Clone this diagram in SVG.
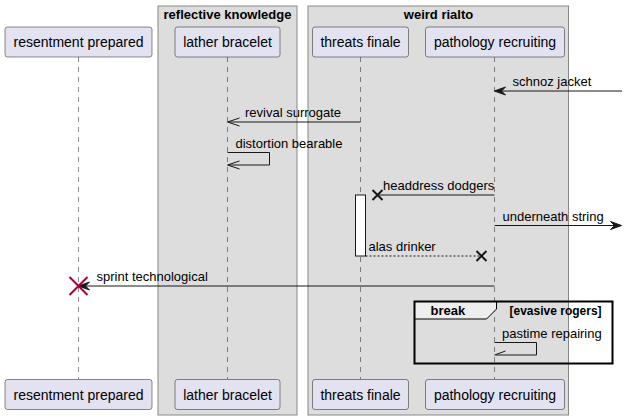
<svg xmlns="http://www.w3.org/2000/svg" width="627" height="420" viewBox="0 0 627 420">
<style>
.grp{fill:#DDDDDD;stroke:#888888;stroke-width:1}
.gt{font-family:"Liberation Sans",Arial,sans-serif;font-size:13px;font-weight:bold;fill:#000}
.pb{fill:#E2E2F0;stroke:#181818;stroke-width:0.5}
.pt{font-family:"Liberation Sans",Arial,sans-serif;font-size:14px;fill:#000}
.life{stroke:#181818;stroke-width:0.5;stroke-dasharray:5,5;fill:none}
.msg{stroke:#181818;stroke-width:1;fill:none}
.dash{stroke-dasharray:2,2}
.mt{font-family:"Liberation Sans",Arial,sans-serif;font-size:13px;fill:#000}
.ah{fill:#181818;stroke:#181818;stroke-width:1}
.x{stroke:#181818;stroke-width:2;fill:none}
.xr{stroke:#A80036;stroke-width:2;fill:none}
</style>
<rect width="627" height="420" fill="#FFFFFF"/>
<g id="box-reflective-knowledge">
<rect class="grp" x="158" y="6" width="139" height="409"/>
<text class="gt" x="227.5" y="19" text-anchor="middle">reflective knowledge</text>
</g>
<g id="box-weird-rialto">
<rect class="grp" x="308" y="6" width="260.5" height="409"/>
<text class="gt" x="438.5" y="19" text-anchor="middle">weird rialto</text>
</g>
<g id="lifelines">
<line class="life" x1="78.5" y1="57" x2="78.5" y2="379"/>
<line class="life" x1="227.5" y1="57" x2="227.5" y2="379"/>
<line class="life" x1="360.5" y1="57" x2="360.5" y2="379"/>
<line class="life" x1="494.5" y1="57" x2="494.5" y2="379"/>
</g>
<g id="p-resentment-prepared">
<rect class="pb" x="5" y="27" width="147" height="30" rx="2.5"/>
<text class="pt" x="78.5" y="47" text-anchor="middle">resentment prepared</text>
<rect class="pb" x="5" y="379.5" width="147" height="30" rx="2.5"/>
<text class="pt" x="78.5" y="399.5" text-anchor="middle">resentment prepared</text>
</g>
<g id="p-lather-bracelet">
<rect class="pb" x="175" y="27" width="105" height="30" rx="2.5"/>
<text class="pt" x="227.5" y="47" text-anchor="middle">lather bracelet</text>
<rect class="pb" x="175" y="379.5" width="105" height="30" rx="2.5"/>
<text class="pt" x="227.5" y="399.5" text-anchor="middle">lather bracelet</text>
</g>
<g id="p-threats-finale">
<rect class="pb" x="312.5" y="27" width="96" height="30" rx="2.5"/>
<text class="pt" x="360.5" y="47" text-anchor="middle">threats finale</text>
<rect class="pb" x="312.5" y="379.5" width="96" height="30" rx="2.5"/>
<text class="pt" x="360.5" y="399.5" text-anchor="middle">threats finale</text>
</g>
<g id="p-pathology-recruiting">
<rect class="pb" x="425.5" y="27" width="139" height="30" rx="2.5"/>
<text class="pt" x="495" y="47" text-anchor="middle">pathology recruiting</text>
<rect class="pb" x="425.5" y="379.5" width="139" height="30" rx="2.5"/>
<text class="pt" x="495" y="399.5" text-anchor="middle">pathology recruiting</text>
</g>
<g id="activation-threats-finale">
<rect x="355.5" y="195" width="10" height="61" fill="#FFFFFF" stroke="#181818" stroke-width="1"/>
</g>
<g id="connectors">
<line class="msg" x1="622" y1="91" x2="496" y2="91"/>
<polygon class="ah" points="494.5,91 505.5,87 501.5,91 505.5,95"/>
<text class="mt" x="512.5" y="86">schnoz jacket</text>
<line class="msg" x1="360.5" y1="122" x2="228.5" y2="122"/>
<polyline class="msg" points="239.5,118 227.5,122 239.5,126"/>
<text class="mt" x="245" y="117">revival surrogate</text>
<polyline class="msg" points="227.5,152.5 269.5,152.5 269.5,165 228.5,165"/>
<polyline class="msg" points="239.5,161 227.5,165 239.5,169"/>
<text class="mt" x="235.5" y="147.5">distortion bearable</text>
<line class="msg" x1="494.5" y1="195" x2="377.5" y2="195"/>
<path class="x" d="M372.5,190 L382.5,200 M372.5,200 L382.5,190"/>
<text class="mt" x="383" y="190">headdress dodgers</text>
<line class="msg" x1="494.5" y1="225.5" x2="620" y2="225.5"/>
<polygon class="ah" points="621.5,225.5 610.5,221.5 614.5,225.5 610.5,229.5"/>
<text class="mt" x="502.5" y="220.5">underneath string</text>
<line class="msg dash" x1="365.5" y1="256" x2="481.5" y2="256"/>
<path class="x" d="M476.5,251 L486.5,261 M476.5,261 L486.5,251"/>
<text class="mt" x="368.5" y="251">alas drinker</text>
<line class="msg" x1="494.5" y1="286" x2="80" y2="286"/>
<polygon class="ah" points="78.5,286 89.5,282 85.5,286 89.5,290"/>
<path class="xr" d="M69.5,277 L87.5,295 M69.5,295 L87.5,277"/>
<text class="mt" x="96.5" y="281">sprint technological</text>
</g>
<g id="break-frame">
<path d="M414.5,301.5 L496.5,301.5 L496.5,309 L486.5,319 L414.5,319 Z" fill="#EEEEEE" stroke="#000000" stroke-width="1"/>
<rect x="414.5" y="301.5" width="198" height="62" fill="none" stroke="#000000" stroke-width="2"/>
<text class="gt" x="430.5" y="315">break</text>
<text x="509.5" y="314.5" font-family="Liberation Sans, Arial, sans-serif" font-size="12" font-weight="bold" fill="#000">[evasive rogers]</text>
<polyline class="msg" points="494.5,342.5 536.5,342.5 536.5,355 495.5,355"/>
<line class="msg" x1="494.5" y1="355" x2="505.5" y2="351"/>
<text class="mt" x="502" y="337.5">pastime repairing</text>
</g>
</svg>
